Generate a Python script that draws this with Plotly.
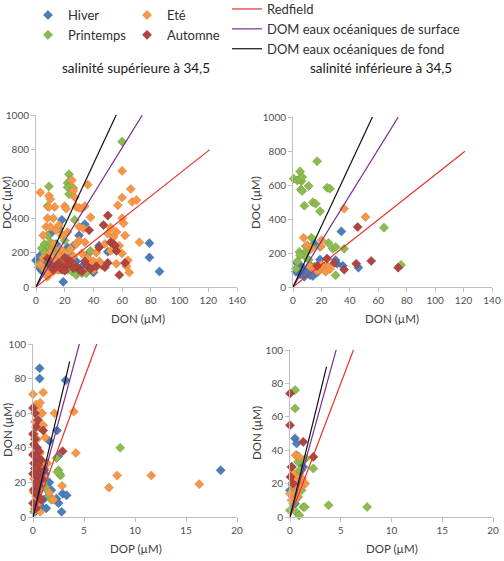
import plotly.graph_objects as go

# ---------------- data ----------------
seasons = ["Hiver", "Eté", "Printemps", "Automne"]
season_colors = {"Hiver": "#4A7EBB", "Eté": "#F79646", "Printemps": "#8DBB4E", "Automne": "#B0443F"}
season_edges = {"Hiver": "#3A6596", "Eté": "#D9803A", "Printemps": "#719A3C", "Automne": "#8E3532"}

panel_titles = ["salinité supérieure à 34,5", "salinité inférieure à 34,5"]

# Top-left: salinity > 34.5, DON vs DOC
tl_hiver_don = [0, 2, 3, 4, 5, 6, 7, 8, 9, 10, 11, 12, 13, 14, 15, 16, 17, 18, 19, 20, 21, 22, 24, 26, 28, 30, 32, 34, 36, 40, 44, 50, 79, 79, 86, 5, 8, 12, 18, 25]
tl_hiver_doc = [155, 115, 185, 95, 140, 120, 175, 90, 150, 310, 130, 200, 105, 250, 160, 340, 210, 390, 30, 140, 175, 230, 110, 240, 150, 300, 120, 365, 190, 85, 240, 205, 255, 172, 90, 90, 210, 145, 120, 180]

tl_printemps_don = [60, 23, 22, 24, 22, 23, 26, 27, 9, 8, 4, 6, 8, 9, 10, 11, 12, 14, 15, 18, 20, 22, 25, 28, 32, 35, 38, 10, 6, 12, 16, 19, 2, 7]
tl_printemps_doc = [845, 655, 605, 620, 580, 540, 575, 390, 585, 470, 225, 250, 300, 235, 260, 210, 230, 190, 340, 150, 270, 100, 90, 70, 80, 80, 210, 140, 200, 105, 100, 180, 130, 165]

tl_ete_don = [3, 9, 10, 13, 9, 8, 12, 5, 7, 10, 14, 16, 20, 21, 25, 27, 26, 28, 30, 32, 34, 36, 38, 30, 33, 22, 18, 12, 10, 6, 8, 9, 14, 16, 20, 24, 28, 30, 34, 36, 40, 42, 44, 46, 50, 52, 54, 56, 57, 60, 60, 60, 61, 63, 64, 65, 66, 67, 70, 72, 60, 56, 48, 40, 45, 25, 18, 15, 12, 22, 3, 5, 11, 17, 26, 32, 38, 52, 58, 62]
tl_ete_doc = [550, 530, 510, 465, 465, 400, 400, 300, 350, 350, 330, 360, 470, 455, 620, 520, 560, 465, 460, 455, 470, 595, 405, 350, 340, 320, 300, 250, 200, 100, 60, 80, 160, 180, 200, 220, 250, 270, 260, 170, 150, 200, 150, 125, 310, 345, 290, 320, 475, 675, 520, 400, 370, 120, 155, 85, 570, 495, 505, 260, 195, 135, 250, 100, 130, 130, 120, 100, 90, 140, 130, 170, 175, 220, 180, 195, 120, 210, 240, 300]

tl_automne_don = [50, 47, 52, 54, 55, 56, 58, 62, 37, 34, 36, 38, 30, 28, 26, 24, 22, 20, 19, 18, 16, 14, 12, 10, 8, 48, 50, 44, 42, 32, 20]
tl_automne_doc = [415, 360, 260, 250, 240, 210, 70, 140, 330, 150, 120, 105, 100, 120, 110, 150, 130, 170, 110, 100, 140, 120, 100, 130, 165, 115, 140, 230, 120, 90, 95]

# Top-right: salinity < 34.5, DON vs DOC
tr_hiver_don = [34, 46, 15, 19, 30, 3, 5, 7, 9, 10, 12, 14, 8, 5, 2, 17, 13, 31, 35, 4, 6]
tr_hiver_doc = [327, 114, 255, 161, 157, 140, 128, 110, 95, 80, 70, 65, 60, 75, 90, 85, 120, 137, 125, 120, 100]

tr_printemps_don = [0.5, 3, 5, 6, 4.5, 6.5, 5.5, 6.5, 11, 17, 24, 26, 14, 16, 8, 19, 64, 76, 2, 4.5, 7.5, 10, 13, 9, 5, 25, 28, 30, 36, 30, 13, 9, 19, 15, 3, 11]
tr_printemps_doc = [637, 627, 680, 622, 635, 647, 573, 565, 594, 739, 584, 578, 498, 490, 478, 445, 349, 130, 108, 206, 196, 206, 236, 176, 186, 259, 225, 235, 225, 69, 290, 240, 235, 120, 150, 160]

tr_ete_don = [36, 51, 7.5, 10, 20, 19.7, 13, 12, 15, 19, 22, 24, 17, 20, 23, 26]
tr_ete_doc = [461, 412, 290, 247, 275, 241, 225, 120, 110, 100, 120, 125, 95, 130, 90, 105]

tr_automne_don = [45.5, 55, 74, 44.5, 36, 29, 24, 17]
tr_automne_doc = [353, 153, 114, 137, 102, 141, 167, 124]

# Bottom-left: salinity > 34.5, DOP vs DON
bl_hiver_dop = [0.65, 0.65, 3.2, 2.35, 1.6, 2.45, 1.6, 1.8, 2.3, 2.5, 2.8, 2.9, 3.3, 18.4, 0.2, 0.8, 1.0, 1.3, 0.5, 0.7, 1.1, 0.3, 0.9, 1.5, 0.4, 1.2]
bl_hiver_don = [86, 80, 79, 50, 44, 35, 20, 15.5, 10.6, 8, 3, 13.5, 12.5, 27, 3, 6, 10, 5, 15, 22, 28, 35, 18, 12, 30, 25]

bl_ete_dop = [7.45, 8.25, 11.6, 16.3, 4.2, 4.0, 2.1, 2.85, 1.0, 0.0, 0.3, 0.5, 0.7, 0.9, 0.2, 0.6, 0.8, 1.0, 0.1, 0.4, 1.2, 0.3, 0.7, 0.5, 0.9, 1.4, 0.2, 0.6, 1.1, 0.4, 0.8, 0.0, 0.3, 1.6, 2.0, 0.5, 0.2, 0.7, 1.0, 0.1]
bl_ete_don = [17, 24, 24, 19, 37, 61, 60, 18, 72, 71, 65, 64, 66, 60, 55, 52, 60, 53, 48, 45, 46, 40, 37, 35, 32, 31, 28, 25, 23, 20, 18, 15, 12, 14, 10, 8, 5, 3, 28, 22]

bl_printemps_dop = [8.55, 2.5, 2.7, 2.3, 2.6, 0.2, 0.5, 0.8, 1.3, 1.6, 1.8, 0.4, 1.0, 0.1, 2.4]
bl_printemps_don = [40, 27, 24, 34, 25, 4, 10, 17, 16, 12, 10, 22, 20, 3, 26]

bl_automne_dop = [2.9, 0.0, 0.2, 0.5, 0.3, 1.0, 0.0, 0.2, 0.1, 0.4, 0.6, 0.0, 0.3, 0.8, 0.1, 0.5, 0.2, 0.7, 0.0, 0.4, 0.9, 0.3, 0.6, 0.1, 0.2, 0.5, 0.8, 0.0, 1.1, 0.3]
bl_automne_don = [38, 63, 60, 56, 52, 50, 48, 45, 42, 40, 38, 36, 35, 33, 31, 30, 28, 26, 25, 23, 22, 20, 18, 16, 14, 12, 10, 8, 27, 5]

# Bottom-right: salinity < 34.5, DOP vs DON
br_hiver_dop = [0.5, 0.65, 1.05, 1.3, 0.65, 0.0, 0.3, 0.9, 0.2, 0.5, 1.1]
br_hiver_don = [47, 44, 32, 30, 37, 16, 12, 26, 20, 8, 28]

br_ete_dop = [0.55, 0.65, 0.25, 0.5, 0.8, 0.0, 1.5, 1.0, 0.15, 0.3, 0.9, 0.4, 0.7, 1.2]
br_ete_don = [37, 24, 19, 20, 16, 14, 20, 18, 10, 26, 36, 22, 12, 23]

br_printemps_dop = [0.5, 0.5, 1.55, 2.3, 3.8, 7.6, 0.0, 0.3, 0.6, 0.9, 1.3, 1.45, 0.8, 1.15, 0.3, 0.65, 0.95, 1.3, 0.8, 0.3, 0.15, 0.5, 1.0, 0.7, 0.2]
br_printemps_don = [76, 65, 35, 29, 7, 6, 4, 8, 3, 1, 6, 6, 12, 16, 18, 24, 28, 34, 33, 26, 14, 10, 20, 22, 30]

br_automne_dop = [0.0, 0.0, 0.15, 0.05, 1.3, 2.3, 0.3]
br_automne_don = [74, 55, 30, 24, 45, 36, 20]

# Reference ratio lines
ref_names = ["Redfield", "DOM eaux océaniques de surface", "DOM eaux océaniques de fond"]
ref_colors = ["#E8312A", "#7A2D8F", "#111111"]
cn_ratios = [6.6, 13.5, 17.9]      # DOC:DON
cn_x_end = [121, 74, 56]           # DON extent
np_ratios = [16, 22, 25]           # DON:DOP
np_x_end = [6.25, 4.55, 3.6]       # DOP extent

x_ticks_cn = [0, 20, 40, 60, 80, 100, 120, 140]
y_ticks_cn = [0, 200, 400, 600, 800, 1000]
x_ticks_np = [0, 5, 10, 15, 20]
y_ticks_np = [0, 20, 40, 60, 80, 100]

panels = {
    "tl": {"Hiver": (tl_hiver_don, tl_hiver_doc), "Printemps": (tl_printemps_don, tl_printemps_doc),
           "Eté": (tl_ete_don, tl_ete_doc), "Automne": (tl_automne_don, tl_automne_doc)},
    "tr": {"Hiver": (tr_hiver_don, tr_hiver_doc), "Printemps": (tr_printemps_don, tr_printemps_doc),
           "Eté": (tr_ete_don, tr_ete_doc), "Automne": (tr_automne_don, tr_automne_doc)},
    "bl": {"Hiver": (bl_hiver_dop, bl_hiver_don), "Printemps": (bl_printemps_dop, bl_printemps_don),
           "Eté": (bl_ete_dop, bl_ete_don), "Automne": (bl_automne_dop, bl_automne_don)},
    "br": {"Hiver": (br_hiver_dop, br_hiver_don), "Printemps": (br_printemps_dop, br_printemps_don),
           "Eté": (br_ete_dop, br_ete_don), "Automne": (br_automne_dop, br_automne_don)},
}

# ---------------- figure ----------------
W, H = 504, 561
FONT = "Lato, 'Open Sans', sans-serif"
TXT = "#404040"

def px_x(p):
    return p / W

def px_y(p):
    return 1 - p / H

axes_def = {
    "tl": ("x", "y", [px_x(36), px_x(237)], [px_y(287), px_y(115)], [0, 140], [0, 1000], x_ticks_cn, y_ticks_cn),
    "tr": ("x2", "y2", [px_x(293), px_x(492)], [px_y(287), px_y(117)], [0, 140], [0, 1000], x_ticks_cn, y_ticks_cn),
    "bl": ("x3", "y3", [px_x(33), px_x(237)], [px_y(517), px_y(344)], [0, 20], [0, 100], x_ticks_np, y_ticks_np),
    "br": ("x4", "y4", [px_x(290), px_x(493)], [px_y(517), px_y(350)], [0, 20], [0, 100], x_ticks_np, y_ticks_np),
}

fig = go.Figure()

order = ["Hiver", "Printemps", "Eté", "Automne"]
legend_of = {"Hiver": "legend", "Printemps": "legend", "Eté": "legend2", "Automne": "legend2"}

for key, (xa, ya, *_rest) in axes_def.items():
    is_cn = key in ("tl", "tr")
    ratios = cn_ratios if is_cn else np_ratios
    ends = cn_x_end if is_cn else np_x_end
    for s in order:
        xs, ys = panels[key][s]
        fig.add_trace(go.Scatter(
            x=xs, y=ys, mode="markers", name=s, xaxis=xa, yaxis=ya,
            marker=dict(symbol="diamond", size=7, color=season_colors[s],
                        line=dict(width=0.5, color=season_edges[s])),
            cliponaxis=False, legend=legend_of[s],
            showlegend=(key == "tl"), legendrank=order.index(s),
        ))
    for i, nm in enumerate(ref_names):
        fig.add_trace(go.Scatter(
            x=[0, ends[i]], y=[0, ends[i] * ratios[i]], mode="lines", name=nm,
            xaxis=xa, yaxis=ya, line=dict(color=ref_colors[i], width=1.2),
            cliponaxis=False, legend="legend3", showlegend=(key == "tl"), legendrank=10 + i,
        ))

leg_common = dict(xanchor="left", yanchor="top", orientation="v",
                  font=dict(size=13, color="#303030"), itemwidth=30, tracegroupgap=0,
                  bgcolor="rgba(0,0,0,0)", borderwidth=0)
layout = dict(
    template="none",
    width=W, height=H, margin=dict(l=0, r=0, t=0, b=0, pad=0, autoexpand=False),
    paper_bgcolor="white", plot_bgcolor="white",
    font=dict(family=FONT, color=TXT, size=10),
    legend=dict(x=px_x(28), y=1, **leg_common),
    legend2=dict(x=px_x(127), y=1, **leg_common),
    legend3=dict(x=px_x(227), y=px_y(-6), **leg_common),
)

axis_style = dict(showgrid=False, zeroline=False, showline=True, linecolor="#BFBFBF", linewidth=1,
                  ticks="outside", ticklen=4, tickcolor="#BFBFBF", automargin=False,
                  tickfont=dict(family=FONT, size=10, color="#505050"), fixedrange=True)

for i, (key, (xa, ya, xd, yd, xr, yr, xt, yt)) in enumerate(axes_def.items()):
    xname = "xaxis" if xa == "x" else "xaxis" + xa[1:]
    yname = "yaxis" if ya == "y" else "yaxis" + ya[1:]
    layout[xname] = dict(domain=xd, range=xr, tickvals=xt, anchor=ya, **axis_style)
    layout[yname] = dict(domain=yd, range=yr, tickvals=yt, anchor=xa, **axis_style)

fig.update_layout(**layout)

ann = []
# panel titles
ann.append(dict(text=panel_titles[0], x=px_x(136), y=px_y(68), xref="paper", yref="paper",
                showarrow=False, font=dict(size=13.5, color="#202020"), xanchor="center", yanchor="middle"))
ann.append(dict(text=panel_titles[1], x=px_x(381), y=px_y(68), xref="paper", yref="paper",
                showarrow=False, font=dict(size=13.5, color="#202020"), xanchor="center", yanchor="middle"))
# axis titles
for (txt, cx, cy, ang) in [
    ("DON (µM)", 138, 318, 0), ("DON (µM)", 392, 318, 0),
    ("DOP (µM)", 136, 548, 0), ("DOP (µM)", 392, 548, 0),
    ("DOC (µM)", 7, 203, -90), ("DOC (µM)", 256, 203, -90),
    ("DON (µM)", 7, 430, -90), ("DON (µM)", 256, 433, -90),
]:
    ann.append(dict(text=txt, x=px_x(cx), y=px_y(cy), xref="paper", yref="paper", showarrow=False,
                    textangle=ang, font=dict(size=11.5, color="#404040"),
                    xanchor="center", yanchor="middle"))
fig.update_layout(annotations=ann)

# remove the default 8px page margin so the 504x561 figure fills the window exactly
fig.write_html("out.html", config={"displayModeBar": False},
               post_script="document.body.style.margin='0';document.body.style.overflow='hidden';")
